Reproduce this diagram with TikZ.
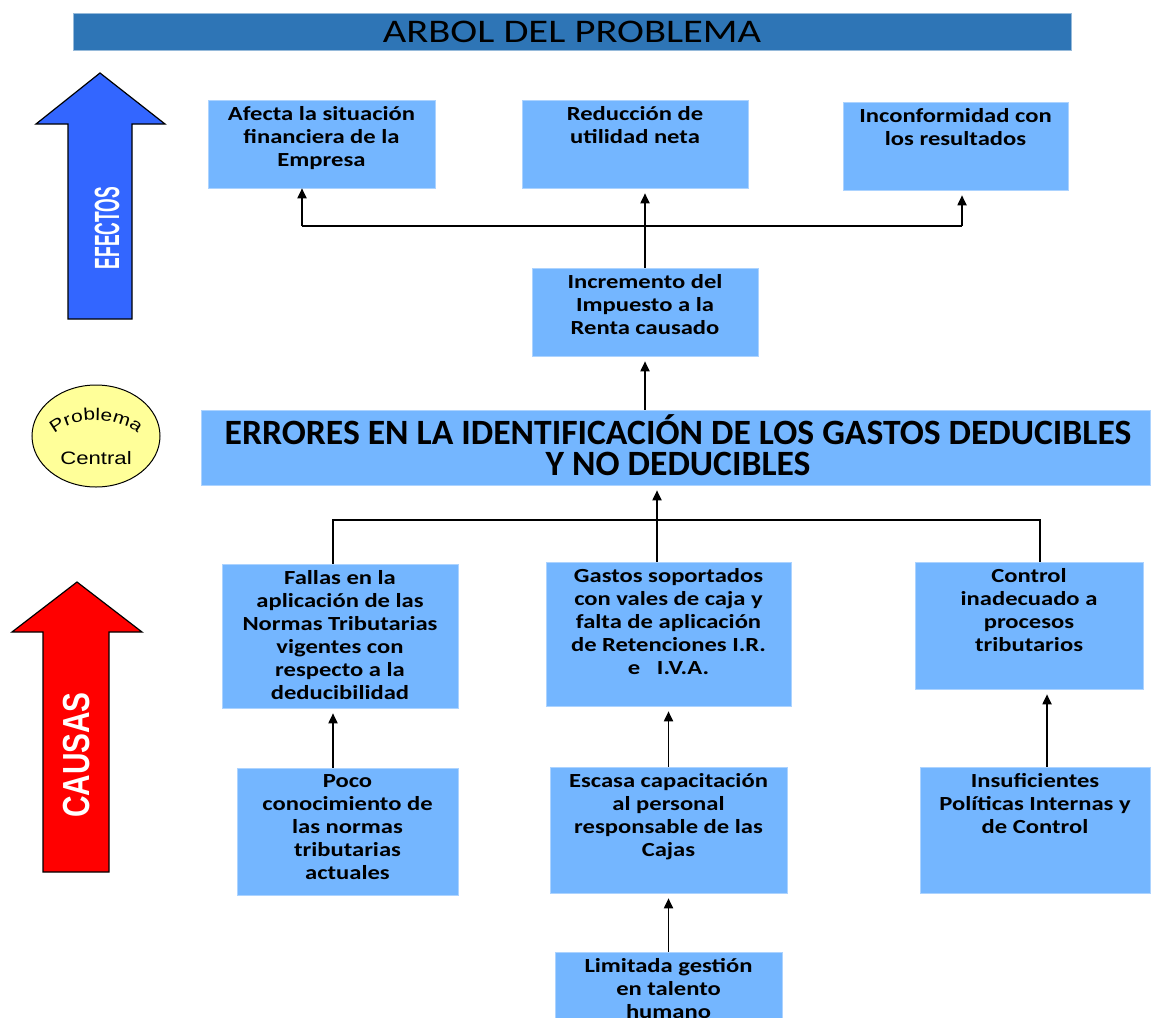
\documentclass[tikz,border=0pt]{standalone}
\usepackage{fontspec}
\setmainfont{Carlito}
\newfontfamily\boitefont[FakeStretch=1.23]{Carlito}
\newfontfamily\flechefont{Liberation Sans}
\newfontfamily\cerclefont[FakeStretch=1.23]{Liberation Sans}
\usetikzlibrary{positioning,arrows.meta,shapes.geometric,decorations.text}

\definecolor{bleuboite}{RGB}{116,182,255}
\definecolor{bleutitre}{RGB}{46,117,182}
\definecolor{bleueffet}{RGB}{51,102,255}
\definecolor{rougecause}{RGB}{255,0,0}
\definecolor{jaune}{RGB}{255,255,153}

\tikzset{
  boite/.style={rectangle, fill=bleuboite, draw=bleuboite!60!white, line width=0.6pt, inner sep=0pt},
  texteboite/.style={inner sep=0pt, align=center, font=\boitefont\bfseries\fontsize{20}{23}\selectfont},
  titre/.style={rectangle, fill=bleutitre, draw=bleutitre!50!white, line width=0.6pt, inner sep=0pt, font=\boitefont\fontsize{33}{33}\selectfont},
  lien/.style={line width=1.8pt},
  fleche/.style={lien, -{Triangle[length=10pt,width=9pt]}, shorten >=5pt},
  mot/.style={rotate=90, text=white, inner sep=0pt},
}

\begin{document}
\begin{tikzpicture}[x=1pt,y=-1pt]
\useasboundingbox (0,0) rectangle (1153,1017);

% Titre
\node[titre, minimum width=998pt, minimum height=37pt] (titre) at (572,31.5) {ARBOL DEL PROBLEMA};

% Flèche des effets
\draw[fill=bleueffet, line width=1.2pt] (100,73) -- (165,124) -- (132,124) -- (132,319) -- (68,319) -- (68,124) -- (36,124) -- cycle;
\node[mot, font=\flechefont\bfseries\fontsize{35}{35}\selectfont] (efectos) at (107,228) {\scalebox{0.5}[1]{EFECTOS}};

% Flèche des causes
\draw[fill=rougecause, line width=1.2pt] (77,582) -- (142,632) -- (109,632) -- (109,872) -- (43,872) -- (43,632) -- (12,632) -- cycle;
\node[mot, font=\flechefont\bfseries\fontsize{37.7}{37.7}\selectfont] (causas) at (77,755) {\scalebox{0.79}[1]{CAUSAS}};

% Cercle du problème central
\node[ellipse, draw, fill=jaune, line width=1pt, minimum width=128pt, minimum height=102pt, inner sep=0pt] (cercle) at (96,436) {};
\path[decorate, decoration={text along path, text align=center, text={|\cerclefont\fontsize{17}{17}\selectfont|Problema}}] (50,439) .. controls (66,414) and (126,414) .. (142,439);
\node[inner sep=0pt, font=\cerclefont\fontsize{18}{18}\selectfont] (central-t) at (96,458) {Central};

% Effets
\node[boite, minimum width=227pt, minimum height=88pt] (afecta) at (321.5,144) {};
\node[texteboite, below=7pt of afecta.north] (afecta-t) {Afecta la situación\\financiera de la\\Empresa};
\node[boite, minimum width=226pt, minimum height=88pt] (reduccion) at (635,144) {};
\node[texteboite, below=7pt of reduccion.north] (reduccion-t) {Reducción de\\utilidad neta};
\node[boite, minimum width=225pt, minimum height=88pt] (inconf) at (955.5,146) {};
\node[texteboite, below=7pt of inconf.north] (inconf-t) {Inconformidad con\\los resultados};
\node[boite, minimum width=226pt, minimum height=88pt] (incremento) at (645,312) {};
\node[texteboite, below=7pt of incremento.north] (incremento-t) {Incremento del\\Impuesto a la\\Renta causado};

% Problème central
\node[boite, minimum width=949pt, minimum height=75pt] (central) at (675.5,447.5) {};
\node[inner sep=0pt, align=center, font=\bfseries\fontsize{35.6}{31}\selectfont] (central-t) at (678,445) {ERRORES EN LA IDENTIFICACIÓN DE LOS GASTOS DEDUCIBLES\\Y NO DEDUCIBLES};

% Causes directes
\node[boite, minimum width=236pt, minimum height=144pt] (fallas) at (340,636) {};
\node[texteboite, below=7pt of fallas.north] (fallas-t) {Fallas en la\\aplicación de las\\Normas Tributarias\\vigentes con\\respecto a la\\deducibilidad};
\node[boite, minimum width=245pt, minimum height=144pt] (gastos) at (668.5,634) {};
\node[texteboite, below=7pt of gastos.north] (gastos-t) {Gastos soportados\\con vales de caja y\\falta de aplicación\\de Retenciones I.R.\\e \ \ I.V.A.};
\node[boite, minimum width=228pt, minimum height=127pt] (control) at (1029,625.5) {};
\node[texteboite, below=7pt of control.north] (control-t) {Control\\inadecuado a\\procesos\\tributarios};

% Causes profondes
\node[boite, minimum width=221pt, minimum height=127pt] (poco) at (347.5,831.5) {};
\node[texteboite, below=7pt of poco.north] (poco-t) {Poco\\conocimiento de\\las normas\\tributarias\\actuales};
\node[boite, minimum width=237pt, minimum height=126pt] (escasa) at (668.5,830) {};
\node[texteboite, below=7pt of escasa.north] (escasa-t) {Escasa capacitación\\al personal\\responsable de las\\Cajas};
\node[boite, minimum width=230pt, minimum height=126pt] (insuf) at (1035,830) {};
\node[texteboite, below=7pt of insuf.north] (insuf-t) {Insuficientes\\Políticas Internas y\\de Control};
\node[boite, minimum width=227pt, minimum height=88pt] (limitada) at (668.5,996) {};
\node[texteboite, below=7pt of limitada.north] (limitada-t) {Limitada gestión\\en talento\\humano};

% Liens des effets
\coordinate (effG) at (302,226);
\coordinate (effD) at (962,226);
\draw[lien] (effG) -- (effD);
\draw[fleche, shorten >=0pt] (effG) -- (effG |- afecta.south);
\draw[fleche] (effD) -- (effD |- inconf.south);
\draw[fleche] (incremento.north) -- (incremento.north |- reduccion.south);
\draw[fleche] (incremento.south |- central.north) -- (incremento.south);

% Liens des causes
\coordinate (causG) at (333,520);
\coordinate (causM) at (657,520);
\coordinate (causD) at (1040,520);
\draw[lien] (causG |- fallas.north) -- (causG) -- (causD) -- (causD |- control.north);
\draw[fleche] (gastos.north -| causM) -- (central.south -| causM);
\coordinate (insX) at (1047,0);
\draw[fleche] (poco.north -| causG) -- (fallas.south -| causG);
\draw[fleche] (escasa.north) -- (escasa.north |- gastos.south);
\draw[fleche] (insuf.north -| insX) -- (control.south -| insX);
\draw[fleche] (limitada.north) -- (limitada.north |- escasa.south);

\end{tikzpicture}
\end{document}
